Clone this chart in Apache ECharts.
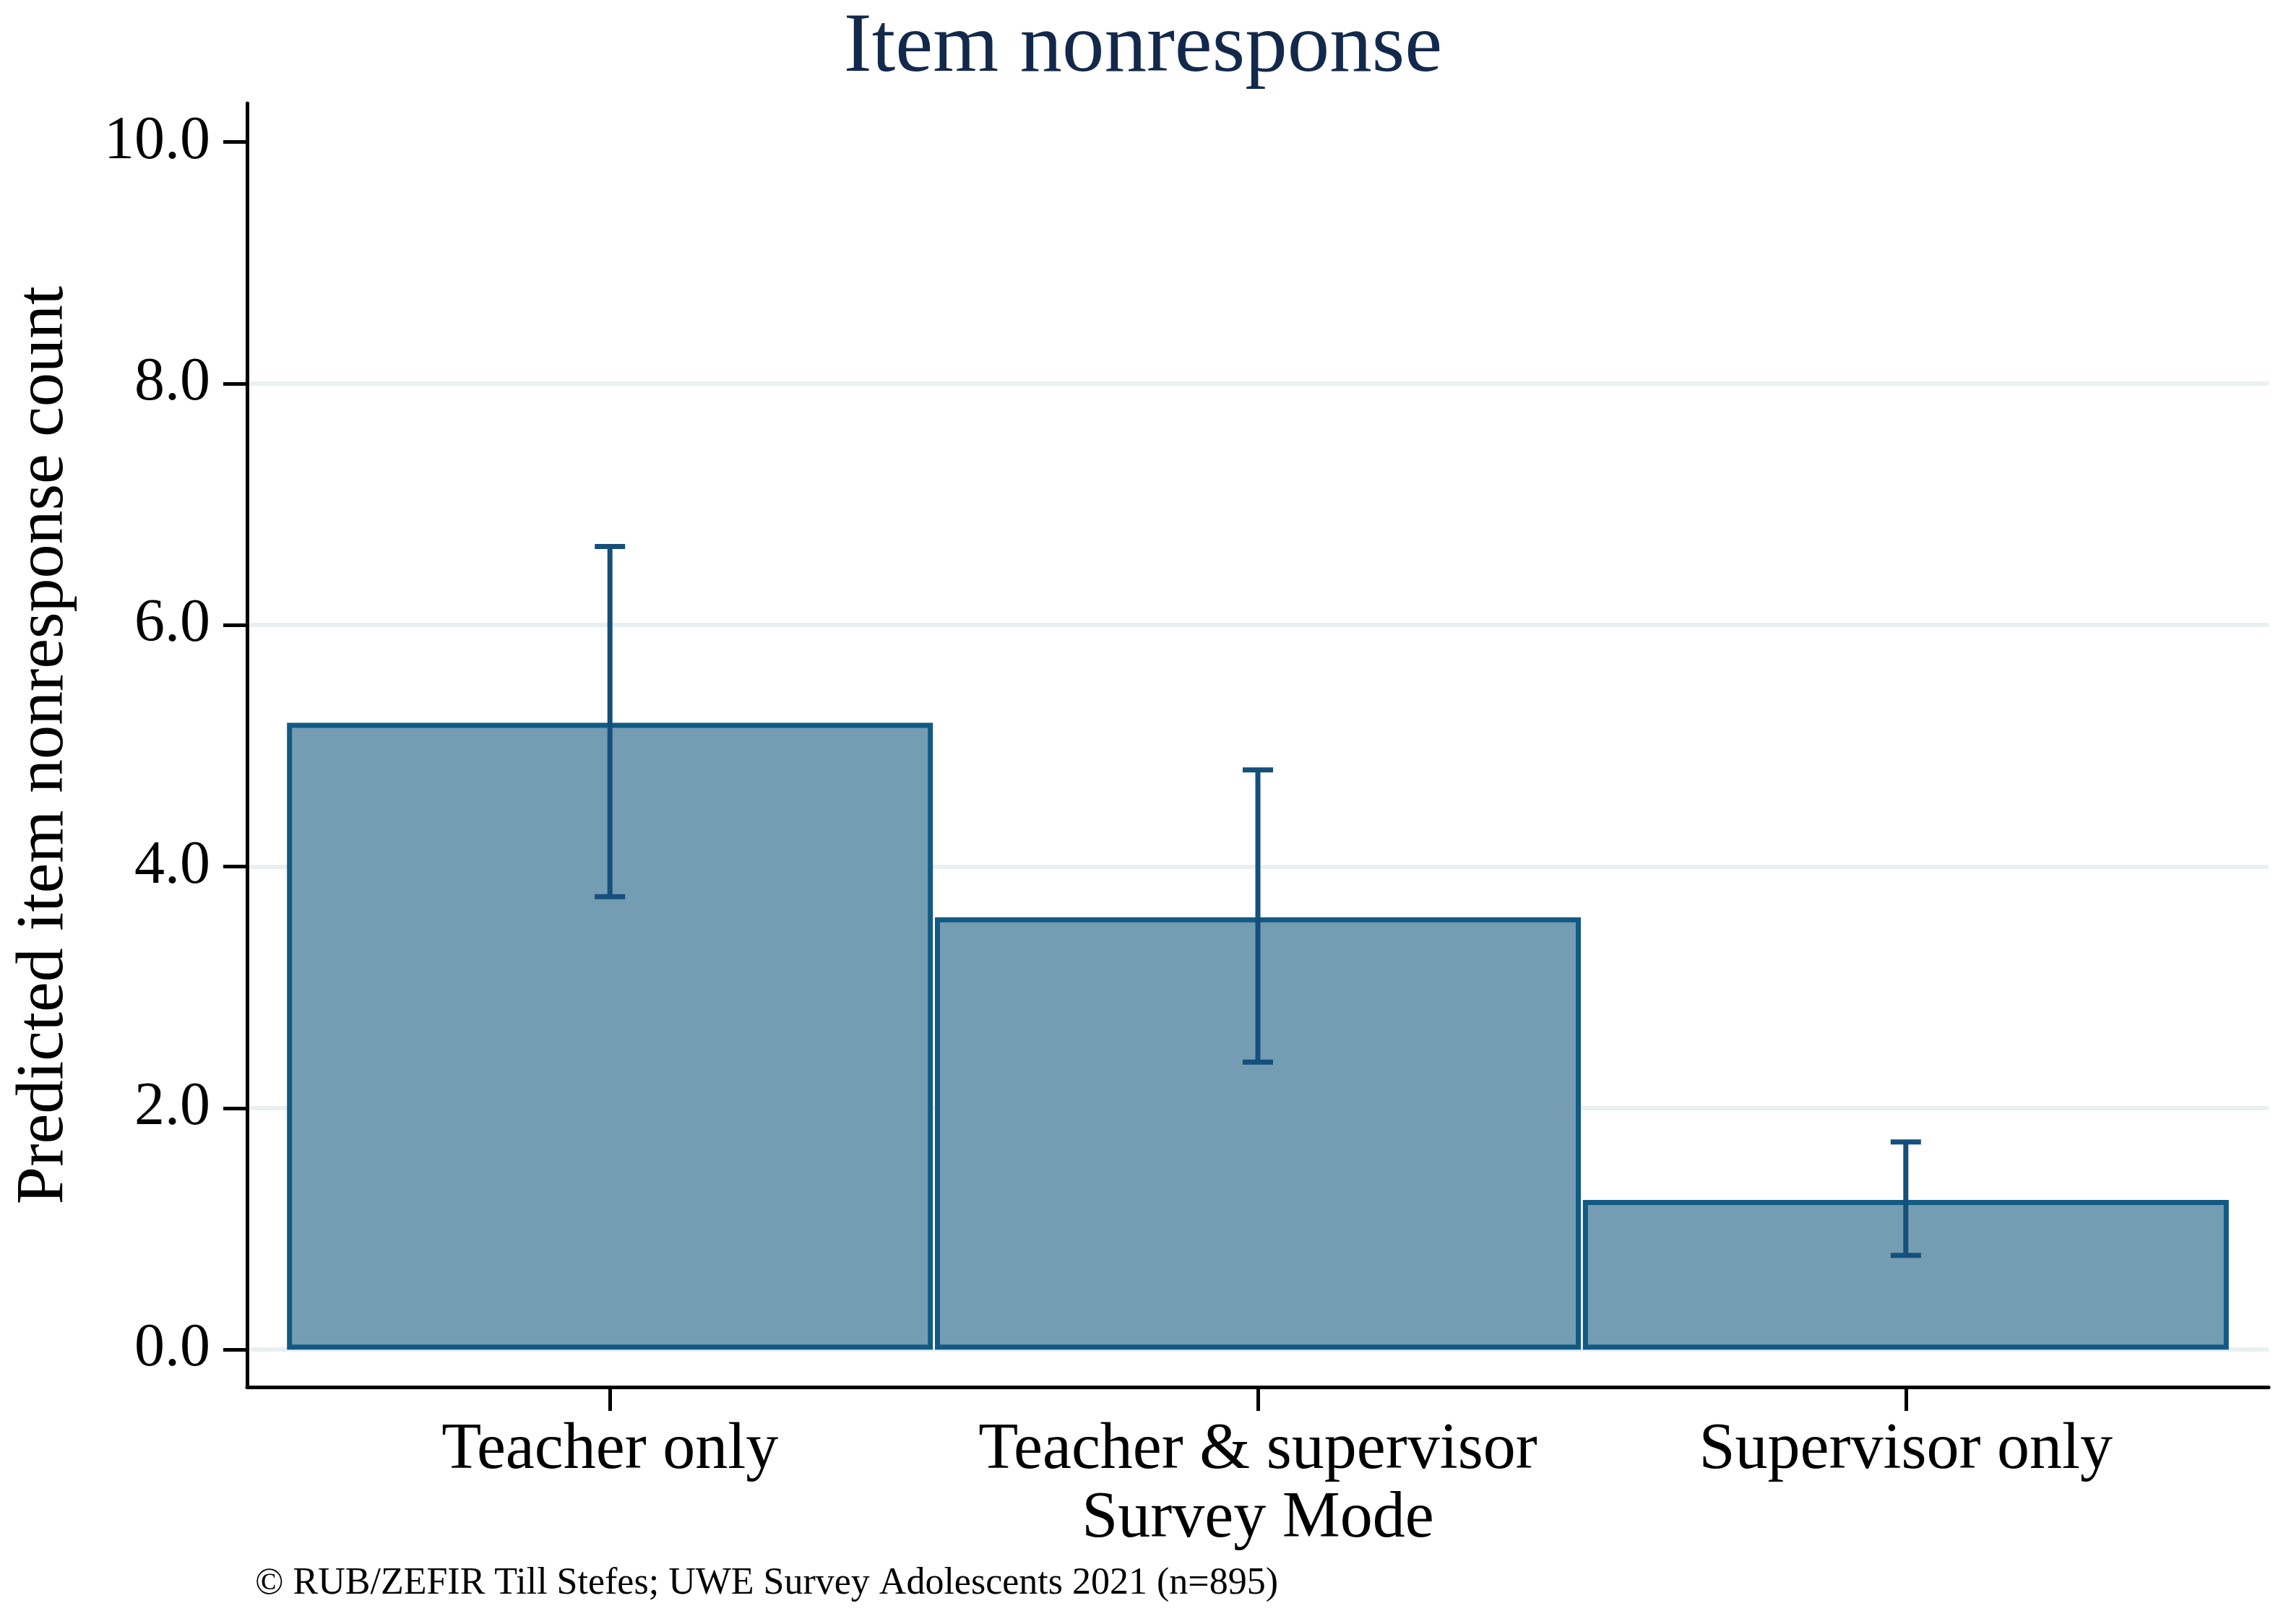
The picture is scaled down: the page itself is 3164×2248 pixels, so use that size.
<!DOCTYPE html>
<html>
<head>
<meta charset="utf-8">
<title>Item nonresponse</title>
<script src="https://cdn.jsdelivr.net/npm/echarts@6.0.0/dist/echarts.min.js"></script>
<style>
  html, body { margin: 0; padding: 0; background: #fff; }
  #chart { width: 3164px; height: 2248px; }
</style>
</head>
<body>
<div id="chart"></div>
<script>
// survey mode categories and predicted counts
const categories = ['Teacher only', 'Teacher & supervisor', 'Supervisor only']
const positions = [1, 2, 3]
const predicted = [5.19, 3.58, 1.24]
const ciLow = [3.75, 2.38, 0.78]
const ciHigh = [6.65, 4.80, 1.72]
const yTicks = [0, 2, 4, 6, 8, 10]

const font = '"Liberation Serif", "DejaVu Serif", serif'
const barFill = '#749cb2'
const barEdge = '#125a84'
const ciColor = '#154f7c'
const gridColor = '#e8f0f2'

const chart = echarts.init(document.getElementById('chart'), null, { renderer: 'canvas' })

const option = {
  backgroundColor: '#fff',
  animation: false,
  title: {
    text: 'Item nonresponse',
    left: 'center',
    top: 4,
    textStyle: {
      fontFamily: font,
      fontWeight: 'normal',
      fontSize: 117,
      color: '#13294b'
    }
  },
  grid: {
    left: 342,
    right: 24,
    top: 143,
    bottom: 328,
    outerBoundsMode: 'none'
  },
  xAxis: {
    type: 'value',
    min: 0.44,
    max: 3.56,
    name: 'Survey Mode',
    nameLocation: 'middle',
    nameGap: 138,
    nameTextStyle: { fontFamily: font, fontSize: 90, color: '#000' },
    axisLine: { show: true, onZero: false, lineStyle: { color: '#000', width: 5 } },
    axisTick: { show: true, length: 33, customValues: positions, lineStyle: { color: '#000', width: 5 } },
    axisLabel: {
      customValues: positions,
      margin: 43,
      fontFamily: font,
      fontSize: 90,
      color: '#000',
      formatter: function (v) {
        return categories[positions.indexOf(Math.round(v))] || ''
      }
    },
    splitLine: { show: false }
  },
  yAxis: {
    type: 'value',
    min: -0.31,
    max: 10.32,
    name: 'Predicted item nonresponse count',
    nameLocation: 'middle',
    nameGap: 234,
    nameTextStyle: { fontFamily: font, fontSize: 94, color: '#000' },
    axisLine: { show: true, onZero: false, lineStyle: { color: '#000', width: 5 } },
    axisTick: { show: true, length: 33, customValues: yTicks, lineStyle: { color: '#000', width: 5 } },
    axisLabel: {
      customValues: yTicks,
      margin: 51,
      fontFamily: font,
      fontSize: 84,
      color: '#000',
      formatter: function (v) {
        return v.toFixed(1)
      }
    },
    splitLine: {
      show: true,
      lineStyle: {
        // no grid line at the top tick
        color: [gridColor, gridColor, gridColor, gridColor, gridColor, 'rgba(0,0,0,0)'],
        width: 6
      }
    }
  },
  series: [
    {
      type: 'bar',
      barWidth: 894,
      data: positions.map((p, i) => [p, predicted[i]]),
      itemStyle: {
        color: barFill,
        borderColor: barEdge,
        borderWidth: 7
      },
      z: 2
    },
    {
      type: 'custom',
      z: 3,
      data: positions.map((p, i) => [p, ciLow[i], ciHigh[i]]),
      renderItem: function (params, api) {
        const lo = api.coord([api.value(0), api.value(1)])
        const hi = api.coord([api.value(0), api.value(2)])
        const cap = 21
        const style = { stroke: ciColor, lineWidth: 7, fill: null }
        return {
          type: 'group',
          children: [
            { type: 'line', shape: { x1: lo[0], y1: lo[1], x2: hi[0], y2: hi[1] }, style: style },
            { type: 'line', shape: { x1: hi[0] - cap, y1: hi[1], x2: hi[0] + cap, y2: hi[1] }, style: style },
            { type: 'line', shape: { x1: lo[0] - cap, y1: lo[1], x2: lo[0] + cap, y2: lo[1] }, style: style }
          ]
        }
      }
    }
  ],
  graphic: [
    {
      type: 'text',
      left: 353,
      top: 2166,
      style: {
        text: '\u00a9 RUB/ZEFIR Till Stefes; UWE Survey Adolescents 2021 (n=895)',
        fontFamily: font,
        fontSize: 52,
        fill: '#000'
      }
    }
  ]
}

chart.setOption(option)
</script>
</body>
</html>
